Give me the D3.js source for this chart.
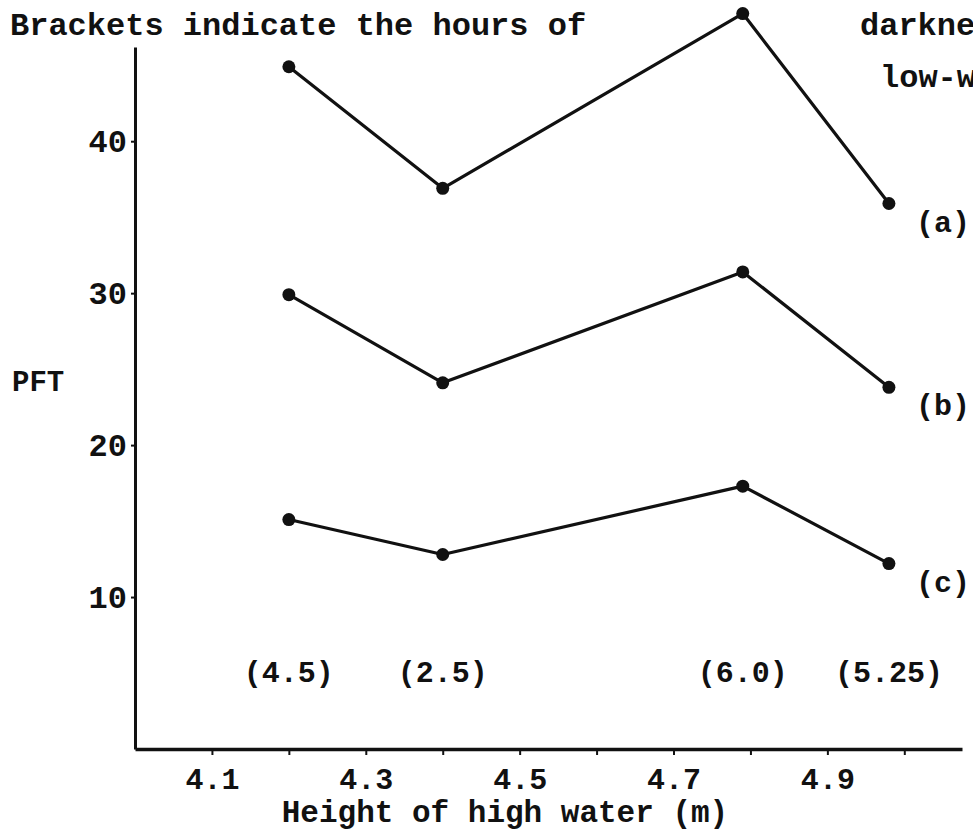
<!DOCTYPE html>
<html>
<head>
<meta charset="utf-8">
<script src="https://cdn.jsdelivr.net/npm/d3@7"></script>
<style>
  body { margin: 0; background: #fff; overflow: hidden; }
  svg text { font-family: "Liberation Mono", "Courier New", monospace; font-weight: bold; fill: #111; }
  .axis path, .axis line { stroke: #111; }
</style>
</head>
<body>
<svg id="chart" width="973" height="830"></svg>
<script>
// Height of high water (m) for each tide
const heights = [4.2, 4.4, 4.79, 4.98];
// hours of darkness at low-water, printed in brackets
const darknessLabels = ["(4.5)", "(2.5)", "(6.0)", "(5.25)"];

// PFT values
const seriesA = [44.9, 36.9, 48.4, 35.9];
const seriesB = [29.9, 24.1, 31.4, 23.8];
const seriesC = [15.1, 12.8, 17.3, 12.2];
const seriesNames = ["(a)", "(b)", "(c)"];

const yTicks = [10, 20, 30, 40];
const xTicks = [4.1, 4.2, 4.3, 4.4, 4.5, 4.6, 4.7, 4.8, 4.9, 5.0];
const xTickLabels = [4.1, 4.3, 4.5, 4.7, 4.9];

class TideChart {
  constructor() {
    this.svg = d3.select("#chart");
    this.left = 135;
    this.right = 962;
    this.top = 47;
    this.bottom = 749;
    this.xScale = d3.scaleLinear().domain([4.0, 5.075]).range([this.left, this.right]);
    this.yScale = d3.scaleLinear().domain([0, 46.2]).range([this.bottom, this.top]);
  }

  render() {
    this.createAxes();
    this.createSeries([seriesA, seriesB, seriesC]);
    this.createLabels();
  }

  createAxes() {
    const { svg, xScale, yScale, left, bottom } = this;

    // X Axis
    const xAxis = svg
      .append("g")
      .attr("class", "axis")
      .attr("transform", `translate(0, ${bottom})`)
      .call(
        d3
          .axisBottom(xScale)
          .tickValues(xTicks)
          .tickSize(6)
          .tickSizeOuter(0)
          .tickPadding(13)
          .tickFormat(d => (xTickLabels.some(v => Math.abs(v - d) < 1e-6) ? d3.format(".1f")(d) : ""))
      );
    xAxis.select(".domain").attr("stroke-width", 3.5);
    xAxis.selectAll(".tick line").attr("stroke-width", 2);
    xAxis.selectAll(".tick text").attr("font-size", 30).attr("fill", "#111");

    // Y Axis
    const yAxis = svg
      .append("g")
      .attr("class", "axis")
      .attr("transform", `translate(${left}, 0)`)
      .call(
        d3
          .axisLeft(yScale)
          .tickValues(yTicks)
          .tickSize(4)
          .tickSizeOuter(0)
          .tickPadding(4)
      );
    yAxis.select(".domain").attr("stroke-width", 3);
    yAxis.selectAll(".tick line").attr("stroke-width", 2);
    yAxis.selectAll(".tick text").attr("font-size", 32).attr("fill", "#111");
  }

  createSeries(allSeries) {
    const { svg, xScale, yScale } = this;
    const line = d3
      .line()
      .x((d, i) => xScale(heights[i]))
      .y(d => yScale(d));

    const groups = svg
      .selectAll("g.series")
      .data(allSeries)
      .enter()
      .append("g")
      .attr("class", "series");

    groups
      .append("path")
      .attr("d", d => line(d))
      .attr("fill", "none")
      .attr("stroke", "#111")
      .attr("stroke-width", 3.2)
      .attr("stroke-linejoin", "round");

    groups
      .selectAll("circle")
      .data(d => d)
      .enter()
      .append("circle")
      .attr("cx", (d, i) => xScale(heights[i]))
      .attr("cy", d => yScale(d))
      .attr("r", 6.5)
      .attr("fill", "#111");

    // series name next to the last point
    groups
      .append("text")
      .attr("x", d => xScale(heights[heights.length - 1]) + 27)
      .attr("y", d => yScale(d[d.length - 1]) + 28)
      .attr("font-size", 30)
      .text((d, i) => seriesNames[i]);
  }

  createLabels() {
    const { svg, xScale } = this;

    // hours of darkness in brackets
    svg
      .selectAll("text.darkness")
      .data(darknessLabels)
      .enter()
      .append("text")
      .attr("class", "darkness")
      .attr("x", (d, i) => xScale(heights[i]))
      .attr("y", 682)
      .attr("text-anchor", "middle")
      .attr("font-size", 30)
      .text(d => d);

    // Title lines, cut off by the page edge like the original
    svg.append("text").attr("x", 10).attr("y", 35).attr("font-size", 32).text("Brackets indicate the hours of");
    svg.append("text").attr("x", 860).attr("y", 35).attr("font-size", 32).text("darkness");
    svg.append("text").attr("x", 880).attr("y", 87).attr("font-size", 32).text("low-water");

    // Label for Y Axis
    svg.append("text").attr("x", 12).attr("y", 391).attr("font-size", 29).text("PFT");

    // Label for X Axis
    svg
      .append("text")
      .attr("x", 505)
      .attr("y", 822)
      .attr("text-anchor", "middle")
      .attr("font-size", 31)
      .text("Height of high water (m)");
  }
}

new TideChart().render();
</script>
</body>
</html>
